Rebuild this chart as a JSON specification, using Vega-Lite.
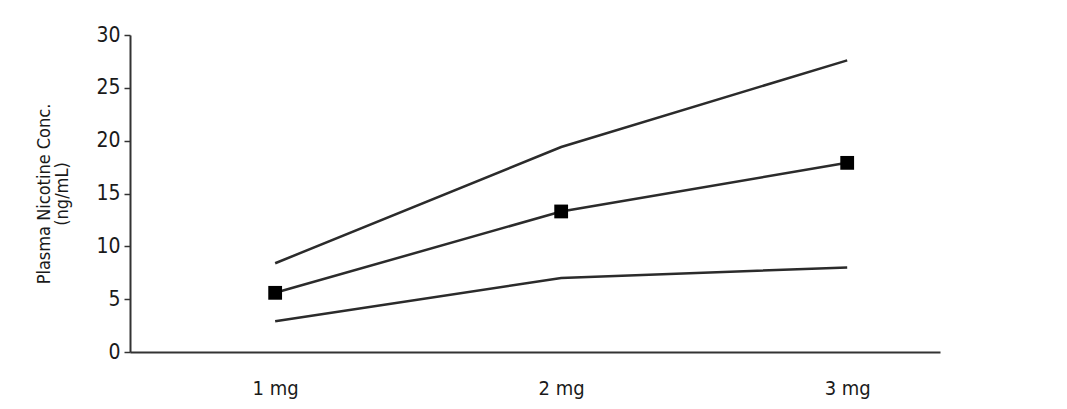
{
  "$schema": "https://vega.github.io/schema/vega-lite/v6.json",
  "autosize": "none",
  "width": 810,
  "height": 317,
  "padding": {"left": 130, "top": 35, "right": 127, "bottom": 57},
  "background": "white",
  "config": {
    "view": {"stroke": null},
    "axis": {
      "labelFont": "DejaVu Sans Condensed",
      "titleFont": "DejaVu Sans Condensed",
      "labelColor": "#1a1a1a",
      "titleColor": "#1a1a1a",
      "domainColor": "#333333",
      "tickColor": "#333333",
      "domainWidth": 2,
      "tickWidth": 1.5,
      "grid": false
    }
  },
  "data": {
    "values": [
      {"series": "upper", "dose": "1 mg", "value": 8.4},
      {"series": "upper", "dose": "2 mg", "value": 19.4},
      {"series": "upper", "dose": "3 mg", "value": 27.6},
      {"series": "mean", "dose": "1 mg", "value": 5.6},
      {"series": "mean", "dose": "2 mg", "value": 13.3},
      {"series": "mean", "dose": "3 mg", "value": 17.9},
      {"series": "lower", "dose": "1 mg", "value": 2.9},
      {"series": "lower", "dose": "2 mg", "value": 7.0},
      {"series": "lower", "dose": "3 mg", "value": 8.0}
    ]
  },
  "encoding": {
    "x": {
      "field": "dose",
      "type": "ordinal",
      "scale": {"type": "point", "padding": 0.416, "align": 0.61},
      "axis": {
        "title": null,
        "labelAngle": 0,
        "ticks": false,
        "labelPadding": 26,
        "labelFontSize": 20
      }
    },
    "y": {
      "field": "value",
      "type": "quantitative",
      "scale": {"domain": [0, 30], "nice": false, "zero": true},
      "axis": {
        "values": [0, 5, 10, 15, 20, 25, 30],
        "title": ["Plasma Nicotine Conc.", "(ng/mL)"],
        "titleFontSize": 18,
        "titleFontWeight": "normal",
        "titleLineHeight": 18,
        "titlePadding": 24,
        "labelFontSize": 21,
        "labelPadding": 4,
        "tickSize": 6
      }
    }
  },
  "layer": [
    {
      "mark": {"type": "line", "color": "#2b2b2b", "strokeWidth": 2.5},
      "encoding": {"detail": {"field": "series", "type": "nominal"}}
    },
    {
      "transform": [{"filter": "datum.series === 'mean'"}],
      "mark": {"type": "point", "shape": "square", "filled": true, "color": "#000000", "opacity": 1, "size": 190}
    }
  ]
}
